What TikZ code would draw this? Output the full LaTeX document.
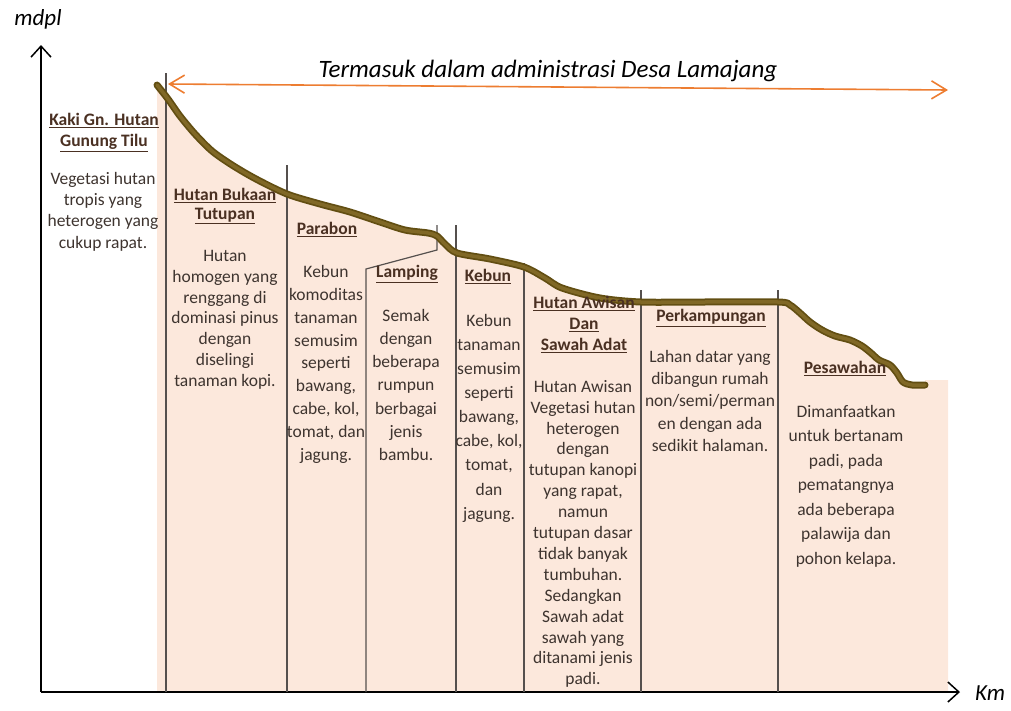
\documentclass[tikz,border=0pt]{standalone}
\usepackage{fontspec}
\setmainfont{Carlito}
\usetikzlibrary{arrows.meta}
\definecolor{fillpeach}{RGB}{252,232,220}
\definecolor{groundout}{RGB}{98,78,18}
\definecolor{groundin}{RGB}{128,104,38}
\definecolor{divline}{RGB}{85,80,78}
\definecolor{orangearr}{RGB}{237,125,49}
\definecolor{headcol}{RGB}{74,48,34}
\definecolor{bodycol}{RGB}{62,52,47}
\tikzset{
  axisline/.style={line width=1.5pt, -{Straight Barb[length=11pt,width=20pt,line width=1.5pt]}},
  adminarrow/.style={line width=1.6pt, orangearr, {Straight Barb[length=15pt,width=18pt,line width=1.6pt]}-{Straight Barb[length=15pt,width=18pt,line width=1.6pt]}},
  divider/.style={line width=1.2pt, divline},
  colhead/.style={anchor=north, inner sep=0pt, align=center, text=headcol,
    font=\fontsize{17.5}{#1}\selectfont\bfseries},
  colbody/.style={anchor=north, inner sep=0pt, align=center, text=bodycol,
    font=\fontsize{17.5}{#1}\selectfont},
  axislabel/.style={inner sep=0pt, font=\fontsize{23}{26}\selectfont\itshape, text=black},
}
\def\profilepts{(157,85) (168,99) (180,116) (195,134) (212,151) (232,165) (256,179) (287,194) (320,204) (350,212) (380,222) (405,230) (428,233) (437,236) (445,244) (457,253) (490,259) (524,267) (545,278) (562,288) (600,298) (641,302) (700,302) (778,302) (790,305) (800,313) (810,322) (822,330) (835,336) (850,340) (862,346) (871,353) (879,360) (890,365) (897,373) (903,382) (912,385) (925,385)}
\begin{document}
\begin{tikzpicture}[x=1pt,y=-1pt]
\useasboundingbox (0,0) rectangle (1011,710);
% ground fill
\fill[fillpeach] (157,692) -- plot[smooth,tension=0.5] coordinates {\profilepts} -- (925,380) -- (948,380) -- (948,692) -- cycle;
% axes
\coordinate (O) at (41,692);
\coordinate (ytop) at (41,45);
\coordinate (xend) at (960,692);
\draw[axisline] (O) -- (ytop);
\draw[axisline] (O) -- (xend);
\node[axislabel] (mdpl) at (38,19) {mdpl};
\node[axislabel] (km) at (990,693) {Km};
% dividers
\coordinate (d1t) at (166,73);  \coordinate (d1b) at (166,692);
\coordinate (d2t) at (287,165); \coordinate (d2b) at (287,692);
\coordinate (d3t) at (437,225); \coordinate (d3m) at (437,250); \coordinate (d3k) at (366,269); \coordinate (d3b) at (366,692);
\coordinate (d4t) at (456,225); \coordinate (d4b) at (456,692);
\coordinate (d5t) at (524,263); \coordinate (d5b) at (524,692);
\coordinate (d6t) at (641,290); \coordinate (d6b) at (641,692);
\coordinate (d7t) at (778,290); \coordinate (d7b) at (778,692);
\draw[divider] (d1t) -- (d1b);
\draw[divider] (d2t) -- (d2b);
\draw[divider] (d3t) -- (d3m) -- (d3k) -- (d3b);
\draw[divider] (d4t) -- (d4b);
\draw[divider] (d5t) -- (d5b);
\draw[divider] (d6t) -- (d6b);
\draw[divider] (d7t) -- (d7b);
% ground profile
\draw[groundout, line width=7pt, line cap=round, line join=round] plot[smooth,tension=0.5] coordinates {\profilepts};
\draw[groundin, line width=3.5pt, line cap=round, line join=round] plot[smooth,tension=0.5] coordinates {\profilepts};
% admin arrow
\coordinate (aL) at (168,84);
\coordinate (aR) at (948,90);
\draw[adminarrow] (aL) -- (aR);
\node[inner sep=0pt, font=\fontsize{25}{28}\selectfont\itshape] (title) at (548,71) {Termasuk dalam administrasi Desa Lamajang};
% column 0
\node[colhead=21] (h0) at (104,113) {\underline{Kaki Gn. Hutan}\\\underline{Gunung Tilu}};
\node[colbody=21.3] (b0) at (103,172) {Vegetasi hutan\\tropis yang\\heterogen yang\\cukup rapat.};
% column 1
\node[colhead=19] (h1) at (225,188) {\underline{Hutan Bukaan}\\\underline{Tutupan}};
\node[colbody=20.8] (b1) at (225,250) {Hutan\\homogen yang\\renggang di\\dominasi pinus\\dengan\\diselingi\\tanaman kopi.};
% column 2
\node[colhead=21] (h2) at (327,222) {\underline{Parabon}};
\node[colbody=22.9] (b2) at (326,265) {Kebun\\komoditas\\tanaman\\semusim\\seperti\\bawang,\\cabe, kol,\\tomat, dan\\jagung.};
% column 3
\node[colhead=21] (h3) at (407,265) {\underline{Lamping}};
\node[colbody=23.2] (b3) at (406,309) {Semak\\dengan\\beberapa\\rumpun\\berbagai\\jenis\\bambu.};
% column 4
\node[colhead=21] (h4) at (488,269) {\underline{Kebun}};
\node[colbody=24.1] (b4) at (489,314) {Kebun\\tanaman\\semusim\\seperti\\bawang,\\cabe, kol,\\tomat,\\dan\\jagung.};
% column 5
\node[colhead=21] (h5) at (584,296) {\underline{Hutan Awisan}\\\underline{Dan}\\\underline{Sawah Adat}};
\node[colbody=20.9] (b5) at (583,380) {Hutan Awisan\\Vegetasi hutan\\heterogen\\dengan\\tutupan kanopi\\yang rapat,\\namun\\tutupan dasar\\tidak banyak\\tumbuhan.\\Sedangkan\\Sawah adat\\sawah yang\\ditanami jenis\\padi.};
% column 6
\node[colhead=21] (h6) at (711,309) {\underline{Perkampungan}};
\node[colbody=22.25] (b6) at (710,350) {Lahan datar yang\\dibangun rumah\\non/semi/perman\\en dengan ada\\sedikit halaman.};
% column 7
\node[colhead=21] (h7) at (845,361) {\underline{Pesawahan}};
\node[colbody=24.5] (b7) at (846,405) {Dimanfaatkan\\untuk bertanam\\padi, pada\\pematangnya\\ada beberapa\\palawija dan\\pohon kelapa.};
\end{tikzpicture}
\end{document}
